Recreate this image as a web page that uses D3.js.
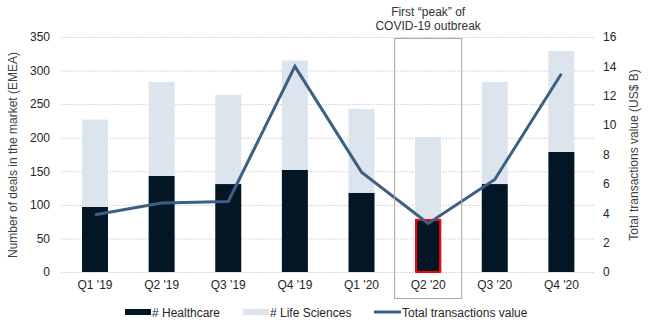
<html>
<head>
<meta charset="utf-8">
<script src="https://d3js.org/d3.v7.min.js"></script>
<style>
  body { margin: 0; background: #fff; }
  text { font-family: "Liberation Sans", Arial, sans-serif; }
</style>
</head>
<body>
<div id="chart"></div>
<script>
// quarters and values
var quarters = ["Q1 '19", "Q2 '19", "Q3 '19", "Q4 '19", "Q1 '20", "Q2 '20", "Q3 '20", "Q4 '20"];
var healthcare = [97, 143, 131, 152, 118, 79, 131, 179];
var lifeSciences = [130, 140, 133, 163, 125, 122, 152, 150];
var totalValue = [3.9, 4.7, 4.8, 14.0, 6.8, 3.3, 6.3, 13.5];
var leftTicks = [0, 50, 100, 150, 200, 250, 300, 350];
var rightTicks = [0, 2, 4, 6, 8, 10, 12, 14, 16];

var W = 649, H = 331;
var svg = d3.select("#chart").append("svg").attr("width", W).attr("height", H);

var x = d3.scaleBand().domain(quarters).range([61.7, 594.7]).paddingInner(0.61).paddingOuter(0.305);
var yL = d3.scaleLinear().domain([0, 350]).range([272, 37]);
var yR = d3.scaleLinear().domain([0, 16]).range([272, 37]);

// gridlines
svg.append("g").selectAll("line").data(leftTicks).enter().append("line")
  .attr("x1", 61).attr("x2", 595)
  .attr("y1", function (d) { return yL(d) + 0.5; })
  .attr("y2", function (d) { return yL(d) + 0.5; })
  .attr("stroke", "#d4d8dc").attr("stroke-width", 1)
  .attr("stroke-dasharray", "2,1");

// stacked bars
var stackData = quarters.map(function (q, i) { return { q: q, hc: healthcare[i], ls: lifeSciences[i] }; });
var series = d3.stack().keys(["hc", "ls"])(stackData);
var colors = { hc: "#021626", ls: "#dce4ed" };
series.forEach(function (s) {
  svg.append("g").selectAll("rect").data(s).enter().append("rect")
    .attr("x", function (d) { return x(d.data.q); })
    .attr("width", x.bandwidth())
    .attr("y", function (d) { return yL(d[1]); })
    .attr("height", function (d) { return yL(d[0]) - yL(d[1]); })
    .attr("fill", colors[s.key]);
});

// red highlight on Q2 '20 healthcare bar
svg.append("rect")
  .attr("x", x("Q2 '20") + 1).attr("width", x.bandwidth() - 2)
  .attr("y", yL(healthcare[5]) + 1).attr("height", yL(0) - yL(healthcare[5]) - 1)
  .attr("fill", "none").attr("stroke", "#ff0000").attr("stroke-width", 2);

// line
var line = d3.line()
  .x(function (d, i) { return x(quarters[i]) + x.bandwidth() / 2; })
  .y(function (d) { return yR(d); });
svg.append("path").datum(totalValue)
  .attr("d", line).attr("fill", "none")
  .attr("stroke", "#3d5f84").attr("stroke-width", 3);

// annotation box
var bx = x("Q2 '20") + x.bandwidth() / 2;
svg.append("rect")
  .attr("x", bx - 33.5).attr("y", 38.5).attr("width", 67).attr("height", 260)
  .attr("fill", "none").attr("stroke", "#a6a6a6").attr("stroke-width", 1);
svg.selectAll(".note").data(["First \u201cpeak\u201d of", "COVID-19 outbreak"]).enter().append("text")
  .attr("x", bx).attr("y", function (d, i) { return 16 + i * 14; })
  .attr("text-anchor", "middle").attr("font-size", 12).attr("fill", "#333")
  .text(function (d) { return d; });

// axes
var leftAxis = d3.axisLeft(yL).tickValues(leftTicks).tickSize(0).tickPadding(0);
svg.append("g").attr("transform", "translate(50,0)").call(leftAxis)
  .call(function (g) { g.select(".domain").remove(); })
  .selectAll("text").attr("font-size", 12).attr("fill", "#262626").style("font-family", "Liberation Sans, Arial, sans-serif");

var rightAxis = d3.axisRight(yR).tickValues(rightTicks).tickSize(0).tickPadding(0);
svg.append("g").attr("transform", "translate(603,0)").call(rightAxis)
  .call(function (g) { g.select(".domain").remove(); })
  .selectAll("text").attr("font-size", 12).attr("fill", "#262626").style("font-family", "Liberation Sans, Arial, sans-serif");

var bottomAxis = d3.axisBottom(x).tickSize(0).tickPadding(0);
svg.append("g").attr("transform", "translate(0,280)").call(bottomAxis)
  .call(function (g) { g.select(".domain").remove(); })
  .selectAll("text").attr("font-size", 12).attr("fill", "#262626").style("font-family", "Liberation Sans, Arial, sans-serif");

// axis titles
svg.append("text").attr("transform", "translate(17,155) rotate(-90)")
  .attr("text-anchor", "middle").attr("font-size", 12).attr("fill", "#404040")
  .text("Number of deals in the market (EMEA)");
svg.append("text").attr("transform", "translate(638,155) rotate(-90)")
  .attr("text-anchor", "middle").attr("font-size", 12).attr("fill", "#404040")
  .text("Total transactions value (US$ B)");

// legend
var legend = [
  { label: "# Healthcare", x: 125, type: "rect", color: colors.hc },
  { label: "# Life Sciences", x: 243, type: "rect", color: colors.ls },
  { label: "Total transactions value", x: 374, type: "line", color: "#3d5f84" }
];
legend.forEach(function (l) {
  if (l.type === "rect") {
    svg.append("rect").attr("x", l.x).attr("y", 309).attr("width", 26).attr("height", 6).attr("fill", l.color);
  } else {
    svg.append("line").attr("x1", l.x).attr("x2", l.x + 27).attr("y1", 312).attr("y2", 312)
      .attr("stroke", l.color).attr("stroke-width", 3);
  }
  svg.append("text").attr("x", l.x + (l.type === "rect" ? 27 : 28)).attr("y", 316.5)
    .attr("font-size", 12).attr("fill", "#262626").text(l.label);
});
</script>
</body>
</html>
